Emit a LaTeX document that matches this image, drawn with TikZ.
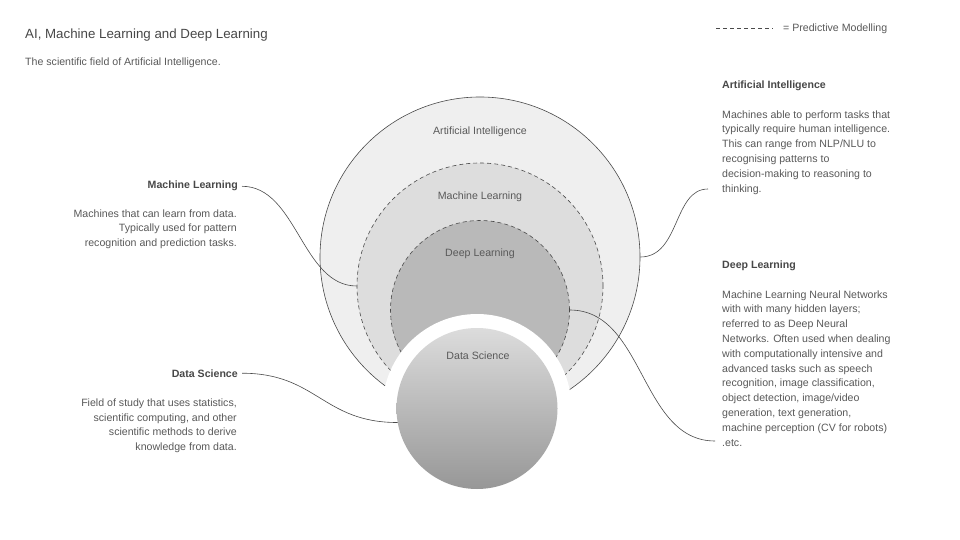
\documentclass[tikz,border=0pt]{standalone}
\usepackage{fontspec}
\setmainfont{Liberation Sans}
\usepackage{tikz}
\usetikzlibrary{positioning}
\usepackage{xcolor}

\definecolor{txtgray}{HTML}{595959}
\definecolor{headgray}{HTML}{484848}
\definecolor{linegray}{HTML}{4A4A4A}
\definecolor{aifill}{HTML}{EFEFEF}
\definecolor{mlfill}{HTML}{DDDDDD}
\definecolor{dlfill}{HTML}{B9B9B9}
\definecolor{dstop}{HTML}{DCDCDC}
\definecolor{dsbottom}{HTML}{979797}

\begin{document}
\begin{tikzpicture}[x=1pt, y=-1pt,
  body/.style={inner sep=0, text=txtgray, font=\fontsize{10.6}{14.8}\selectfont},
  head/.style={inner sep=0, text=headgray, font=\fontsize{10.6}{12}\selectfont\bfseries},
  inlabel/.style={inner sep=0, text=txtgray, font=\fontsize{10.6}{12}\selectfont},
  field/.style={circle, inner sep=0, draw=linegray, line width=0.6pt},
  predictive/.style={dash pattern=on 4pt off 3pt},
  wire/.style={draw=linegray, line width=0.6pt}]

\useasboundingbox[fill=white] (0,0) rectangle (960,540);

% title and legend
\node[inner sep=0, anchor=base west, text=headgray, font=\fontsize{13.3}{15}\selectfont] (title) at (25,38.5) {AI, Machine Learning and Deep Learning};
\node[body, anchor=base west] (subtitle) at (25,66) {The scientific field of Artificial Intelligence.};

\coordinate (keyA) at (716,28);
\coordinate (keyB) at (773,28);
\draw[wire, predictive] (keyA) -- (keyB);
\node[body, anchor=base west] (keytext) at (783,31.5) {= Predictive Modelling};

% nested fields
\node[field, minimum size=320pt, fill=aifill] (ai) at (480,257) {};
\node[field, predictive, minimum size=246pt, fill=mlfill] (ml) at (480,286) {};
\node[field, predictive, minimum size=179pt, fill=dlfill] (dl) at (480,310) {};

\node[circle, inner sep=0, minimum size=189pt, fill=white] (dsring) at (477,408.5) {};
\node[circle, inner sep=0, minimum size=161pt, top color=dstop, bottom color=dsbottom] (ds) at (477,408.5) {};

\node[inlabel] (ailabel) at (480,132) {Artificial Intelligence};
\node[inlabel] (mllabel) at (480,197) {Machine Learning};
\node[inlabel] (dllabel) at (480,254) {Deep Learning};
\node[inlabel] (dslabel) at (478,356) {Data Science};

% left side
\node[head, anchor=base east] (mlhead) at (238,189) {Machine Learning};
\node[body, anchor=north east, align=right] (mlbody) at (237,209.3) {Machines that can learn from data.\\Typically used for pattern\\recognition and prediction tasks.};

\node[head, anchor=base east] (dshead) at (238,377) {Data Science};
\node[body, anchor=north east, align=right] (dsbody) at (237,398.5) {Field of study that uses statistics,\\scientific computing, and other\\scientific methods to derive\\knowledge from data.};

% right side
\node[head, anchor=base west] (aihead) at (722,89) {Artificial Intelligence};
\node[body, anchor=north west, align=left] (aibody) at (722,110.3) {Machines able to perform tasks that\\typically require human intelligence.\\This can range from NLP/NLU to\\recognising patterns to\\decision-making to reasoning to\\thinking.};

\node[head, anchor=base west] (dlhead) at (722,268) {Deep Learning};
\node[body, anchor=north west, align=left] (dlbody) at (722,290.3) {Machine Learning Neural Networks\\with with many hidden layers;\\referred to as Deep Neural\\Networks. Often used when dealing\\with computationally intensive and\\advanced tasks such as speech\\recognition, image classification,\\object detection, image/video\\generation, text generation,\\machine perception (CV for robots)\\.etc.};

% connectors
\coordinate (aitip) at (708,189);
\coordinate (dltip) at (715,441);

\draw[wire] ([xshift=4pt]mlhead.east) .. controls +(55,0) and +(-55,0) .. (ml.west);
\draw[wire] ([xshift=4pt]dshead.east) .. controls +(75,0) and +(-75,0) .. (ds.190);
\draw[wire] (ai.east) .. controls +(40,0) and +(-35,0) .. (aitip);
\draw[wire] (dl.east) .. controls +(75,0) and +(-75,0) .. (dltip);

\end{tikzpicture}
\end{document}
